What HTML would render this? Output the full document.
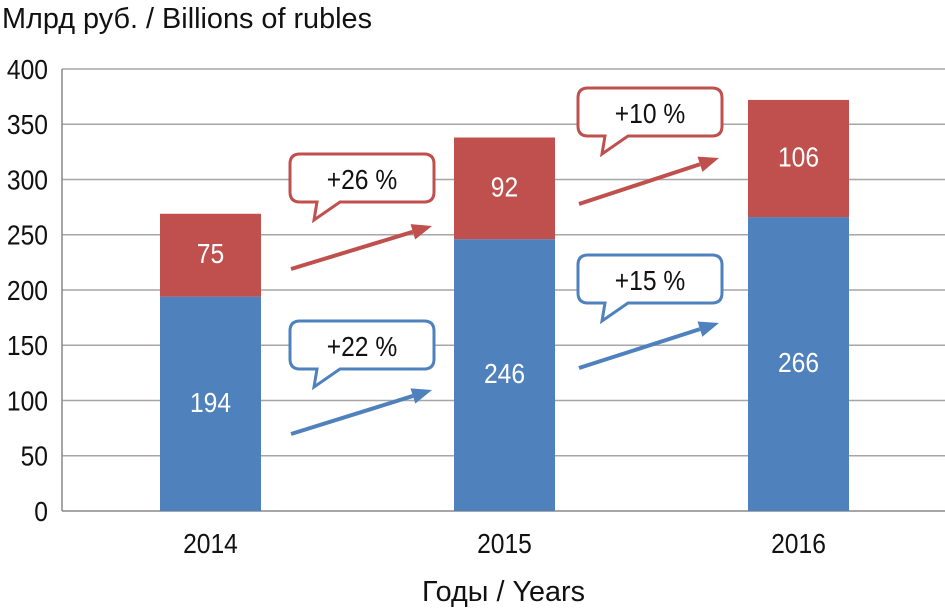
<!DOCTYPE html>
<html><head><meta charset="utf-8"><style>
body{margin:0;background:#fff;}
svg{display:block;font-family:"Liberation Sans Narrow","Liberation Sans",sans-serif;}
</style></head><body>
<svg id="chart" width="945" height="611" viewBox="0 0 945 611">
<text x="2" y="28" font-size="29" textLength="370" lengthAdjust="spacingAndGlyphs" fill="#111">Млрд руб. / Billions of rubles</text>
<text x="422" y="601" font-size="29" textLength="163" lengthAdjust="spacingAndGlyphs" fill="#111">Годы / Years</text>
<g id="grid"></g><g id="bars"></g><g id="notes"></g>
</svg>
<script>
const years = ["2014","2015","2016"];
const base = [194,246,266];
const extra = [75,92,106];
const yTicks = [0,50,100,150,200,250,300,350,400];
const redGrowth = ["+26 %","+10 %"];
const blueGrowth = ["+22 %","+15 %"];
const NS="http://www.w3.org/2000/svg";
const y0=511, y400=69;
const y=v=>y0-(y0-y400)*v/400;
const xc=i=>210.5+294*i;
const BW=101;
function mk(t,a,p){const e=document.createElementNS(NS,t);for(const k in a)e.setAttribute(k,a[k]);p.appendChild(e);return e;}
const grid=document.getElementById('grid'),bars=document.getElementById('bars'),notes=document.getElementById('notes');
yTicks.forEach(v=>{
 const l=mk('line',{x1:62,x2:945,y1:y(v),y2:y(v),stroke:v===0?'#888':'#a6a6a6','stroke-width':1.5},grid);
 
 
 const t=mk('text',{x:48,y:y(v)+10,'font-size':28,'text-anchor':'end',fill:'#111',transform:`translate(48,0) scale(0.88,1) translate(-48,0)`},grid);t.textContent=v;
 
 
});
mk('line',{x1:62,x2:62,y1:y400,y2:y0,stroke:'#888','stroke-width':1.5},grid);
function ctext(p,x,yy,txt,fill,name){
 const t=mk('text',{x:x,y:yy,'font-size':28,'text-anchor':'middle',fill:fill,transform:`translate(${x},0) scale(0.88,1) translate(${-x},0)`},p);t.textContent=txt;
 
 
 return t;
}
years.forEach((yr,i)=>{
 const x=xc(i)-BW/2;
 const b=mk('rect',{x:x,y:y(base[i]),width:BW,height:y(0)-y(base[i]),fill:'#4f81bd'},bars);
 
 
 const r=mk('rect',{x:x,y:y(base[i]+extra[i]),width:BW,height:y(base[i])-y(base[i]+extra[i]),fill:'#c0504d'},bars);
 
 
 ctext(bars,xc(i),(y(0)+y(base[i]))/2+8,base[i],'#fff','value-label');
 ctext(bars,xc(i),(y(base[i])+y(base[i]+extra[i]))/2+8,extra[i],'#fff','value-label');
 ctext(bars,xc(i),553,yr,'#111','x-tick-label');
});
function callout(x,top,label,color,ax1,ay1,ax2,ay2){
 const g=mk('g',{},notes);
 
 
 const w=144,h=48,r=10,b=top+h;
 const d=`M${x+r},${top} H${x+w-r} Q${x+w},${top} ${x+w},${top+r} V${b-r} Q${x+w},${b} ${x+w-r},${b} H${x+50} L${x+24},${b+18} L${x+27},${b} H${x+r} Q${x},${b} ${x},${b-r} V${top+r} Q${x},${top} ${x+r},${top} Z`;
 mk('path',{d:d,fill:'#fff',stroke:color,'stroke-width':3},g);
 ctext(g,x+w/2,top+35,label,'#111','callout-label');
 const ang=Math.atan2(ay2-ay1,ax2-ax1),L=20,W=8;
 const bx=ax2-L*Math.cos(ang),by=ay2-L*Math.sin(ang);
 mk('line',{x1:ax1,y1:ay1,x2:bx,y2:by,stroke:color,'stroke-width':4},g);
 mk('polygon',{points:`${ax2},${ay2} ${bx+W*Math.sin(ang)},${by-W*Math.cos(ang)} ${bx-W*Math.sin(ang)},${by+W*Math.cos(ang)}`,fill:color},g);
}
callout(290,154,redGrowth[0],'#c0504d',291,269,432,226);
callout(578,88,redGrowth[1],'#c0504d',579,204,719,158);
callout(290,321,blueGrowth[0],'#4f81bd',291,434,432,390);
callout(578,255,blueGrowth[1],'#4f81bd',579,368,719,323);
</script>
</body></html>
